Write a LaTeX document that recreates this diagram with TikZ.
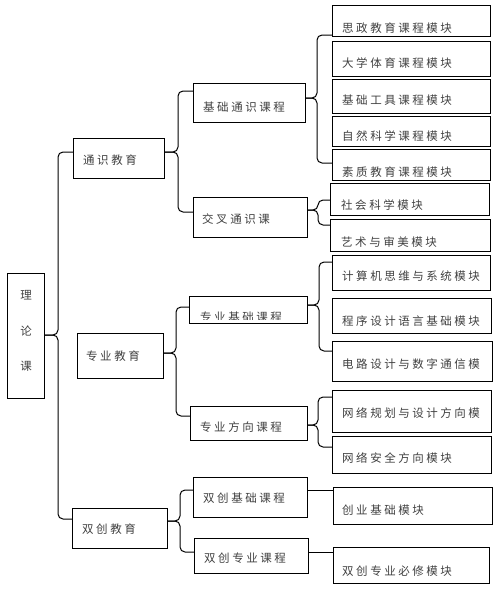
\documentclass[tikz,border=0pt]{standalone}
\usepackage{fontspec}
\newfontfamily\cjk[LetterSpace=22]{Noto Sans CJK SC}
\begin{document}
\begin{tikzpicture}[x=1pt,y=-1pt]
\tikzset{
 box/.style={draw, line width=1pt, anchor=north west, inner sep=0pt},
 txt/.style={anchor=west, inner sep=0pt, font=\cjk\fontsize{11.5}{13}\selectfont, text=black!75},
 conn/.style={line width=1pt, rounded corners=5pt},
}
\newcommand\mkbox[5]{\node[box,minimum width={(#4-#2)*1pt},minimum height={(#5-#3)*1pt}] (#1) at (#2,#3) {};}
\useasboundingbox (0,0) rectangle (500,590);
% boxes
\mkbox{root}{7}{273}{44}{398}
\mkbox{tsjy}{73}{138}{164}{178}
\mkbox{jctsk}{193}{83}{305}{122}
\mkbox{jcts}{193}{197}{307}{237}
\mkbox{m1}{332}{5}{490}{36}
\mkbox{m2}{332}{41}{490}{76}
\mkbox{m3}{332}{79}{490}{113}
\mkbox{m4}{332}{116}{490}{146}
\mkbox{m5}{332}{149}{490}{180}
\mkbox{m6}{330}{183}{489}{215}
\mkbox{m7}{330}{219}{490}{251}
\mkbox{m8}{332}{255}{490}{290}
\mkbox{zyjy}{77}{333}{163}{378}
\mkbox{zyjc}{189}{296}{307}{323}
\mkbox{zyfx}{190}{406}{307}{440}
\mkbox{m9}{332}{298}{491}{333}
\mkbox{m10}{332}{341}{492}{381}
\mkbox{m11}{332}{390}{491}{432}
\mkbox{m12}{332}{436}{491}{473}
\mkbox{scjy}{72}{508}{167}{548}
\mkbox{scjc}{193}{477}{307}{517}
\mkbox{sczy}{194}{538}{308}{573}
\mkbox{m13}{333}{487}{492}{524}
\mkbox{m14}{333}{547}{489}{583}
% texts
\node[txt, anchor=center, align=center, font=\cjk\fontsize{11.5}{35.5}\selectfont] (troot) at (26,331) {理\\论\\课};
\node[txt] (ttsjy) at (83,160) {通识教育};
\node[txt] (tjctsk) at (203,107) {基础通识课程};
\node[txt] (tjcts) at (202,219) {交叉通识课};
\node[txt] (tm1) at (342,28) {思政教育课程模块};
\node[txt] (tm2) at (342,63) {大学体育课程模块};
\node[txt] (tm3) at (342,100) {基础工具课程模块};
\node[txt] (tm4) at (342,136) {自然科学课程模块};
\node[txt] (tm5) at (342,172) {素质教育课程模块};
\node[txt] (tm6) at (341,205) {社会科学模块};
\node[txt] (tm7) at (341,242) {艺术与审美模块};
\node[txt] (tm8) at (342,276) {计算机思维与系统模块};
\node[txt] (tzyjy) at (86,356) {专业教育};
\begin{scope}
\clip (190,297) rectangle (306,319);
\node[txt] (tzyjc) at (200,317.5) {专业基础课程};
\end{scope}
\node[txt] (tzyfx) at (200,427) {专业方向课程};
\node[txt] (tm9) at (342,321) {程序设计语言基础模块};
\node[txt] (tm10) at (342,364) {电路设计与数字通信模};
\node[txt] (tm11) at (342,413) {网络规划与设计方向模};
\node[txt] (tm12) at (342,458) {网络安全方向模块};
\node[txt] (tscjy) at (82,529) {双创教育};
\node[txt] (tscjc) at (203,498) {双创基础课程};
\node[txt] (tsczy) at (204,558) {双创专业课程};
\node[txt] (tm13) at (342,510) {创业基础模块};
\node[txt] (tm14) at (342,571) {双创专业必修模块};
% braces
\draw[conn] (root.east |- 0,335) -- (58,335) -- (58,152) -- (tsjy.west |- 0,152);
\draw[conn] (root.east |- 0,335) -- (58,335) -- (58,519) -- (scjy.west |- 0,519);
\draw[conn] (tsjy.east |- 0,152) -- (178,152) -- (178,91) -- (jctsk.west |- 0,91);
\draw[conn] (tsjy.east |- 0,152) -- (178,152) -- (178,212) -- (jcts.west |- 0,212);
\draw[conn] (jctsk.east |- 0,98) -- (317,98) -- (317,35) -- (m1.west |- 0,35);
\draw[conn] (jctsk.east |- 0,98) -- (317,98) -- (317,163) -- (m5.west |- 0,163);
\draw[conn] (jcts.east |- 0,210) -- (318,210) -- (318,200) -- (m6.west |- 0,200);
\draw[conn] (jcts.east |- 0,210) -- (318,210) -- (318,225) -- (m7.west |- 0,225);
\draw[conn] (zyjy.east |- 0,353) -- (176,353) -- (176,307) -- (zyjc.west |- 0,307);
\draw[conn] (zyjy.east |- 0,353) -- (176,353) -- (176,416) -- (zyfx.west |- 0,416);
\draw[conn] (zyjc.east |- 0,305) -- (319,305) -- (319,262) -- (m8.west |- 0,262);
\draw[conn] (zyjc.east |- 0,305) -- (319,305) -- (319,351) -- (m10.west |- 0,351);
\draw[conn] (zyfx.east |- 0,425) -- (318,425) -- (318,397) -- (m11.west |- 0,397);
\draw[conn] (zyfx.east |- 0,425) -- (318,425) -- (318,447) -- (m12.west |- 0,447);
\draw[conn] (scjy.east |- 0,521) -- (180,521) -- (180,490) -- (scjc.west |- 0,490);
\draw[conn] (scjy.east |- 0,521) -- (180,521) -- (180,552) -- (sczy.west |- 0,552);
\draw[conn] (scjc.east |- 0,490) -- (m13.west |- 0,490);
\draw[conn] (sczy.east |- 0,552) -- (m14.west |- 0,552);
\end{tikzpicture}
\end{document}
